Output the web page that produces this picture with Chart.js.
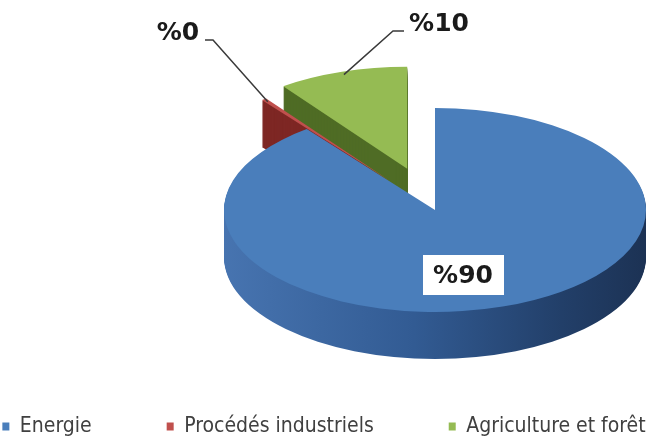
<!DOCTYPE html>
<html>
<head>
<meta charset="utf-8">
<script src="https://cdn.jsdelivr.net/npm/chart.js@4.4.0/dist/chart.umd.min.js"></script>
<style>
  html, body { margin: 0; padding: 0; background: #fff; }
  #wrap { width: 646px; height: 439px; position: relative; }
</style>
</head>
<body>
<div id="wrap"><canvas id="pie"></canvas></div>
<script>
const LABELS = ["Energie", "Procédés industriels", "Agriculture et forêt"];
const VALUES = [89.6, 0.4, 10];
const TOP_COLORS = ["#4a7ebb", "#c0504d", "#95bb53"];
const WALL_COLORS = [null, "#7e2724", "#4f6c25"];
const EXPLODE = [0, 75, 90];

// disc geometry on screen
const CX = 435;
const CY = 210;
const RADIUS = 211;
const TILT = 0.483;
const DEPTH = 47;

const LABEL_FONT = "bold 25px 'DejaVu Sans', Verdana, sans-serif";

function pct(i) {
  const total = VALUES.reduce((a, b) => a + b, 0);
  return "%" + Math.round((VALUES[i] / total) * 100);
}

function pivot(chart) {
  const a = chart.chartArea;
  return { x: (a.left + a.right) / 2, y: (a.top + a.bottom) / 2 };
}

function toScreen(chart, x, y) {
  const p = pivot(chart);
  return { x: CX + (x - p.x), y: CY + (y - p.y) * TILT };
}

function wedge(ctx, arc, dy) {
  ctx.beginPath();
  ctx.moveTo(arc.x, arc.y + dy);
  ctx.arc(arc.x, arc.y + dy, arc.outerRadius, arc.startAngle, arc.endAngle);
  ctx.closePath();
}

const pie3d = {
  id: "pie3d",
  afterDatasetsUpdate(chart) {
    // pull the small slices out along their middle angle
    chart.getDatasetMeta(0).data.forEach((arc, i) => {
      if (!EXPLODE[i]) return;
      const mid = (arc.startAngle + arc.endAngle) / 2;
      arc.x += Math.cos(mid) * EXPLODE[i];
      arc.y += Math.sin(mid) * EXPLODE[i];
    });
  },
  beforeDatasetsDraw(chart) {
    const ctx = chart.ctx;
    const p = pivot(chart);
    const arcs = chart.getDatasetMeta(0).data;
    ctx.save();
    ctx.translate(CX, CY);
    ctx.scale(1, TILT);
    ctx.translate(-p.x, -p.y);

    const grad = ctx.createLinearGradient(p.x - RADIUS, 0, p.x + RADIUS, 0);
    grad.addColorStop(0, "#4774b0");
    grad.addColorStop(0.45, "#325b93");
    grad.addColorStop(0.8, "#223f69");
    grad.addColorStop(1, "#1c3254");

    // side walls, stacked from the bottom up, back slices first
    [2, 1, 0].forEach((i) => {
      const arc = arcs[i];
      ctx.fillStyle = i === 0 ? grad : WALL_COLORS[i];
      for (let s = DEPTH; s > 0; s--) {
        wedge(ctx, arc, s / TILT);
        ctx.fill();
      }
    });
  },
  afterDatasetsDraw(chart) {
    const ctx = chart.ctx;
    ctx.restore();
    const arcs = chart.getDatasetMeta(0).data;

    const edge = (i) => {
      const arc = arcs[i];
      const mid = (arc.startAngle + arc.endAngle) / 2;
      return toScreen(
        chart,
        arc.x + Math.cos(mid) * arc.outerRadius * 0.97,
        arc.y + Math.sin(mid) * arc.outerRadius * 0.97,
      );
    };

    ctx.save();
    ctx.font = LABEL_FONT;
    ctx.textAlign = "center";
    ctx.textBaseline = "middle";

    // leader lines
    ctx.strokeStyle = "#3a3a3a";
    ctx.lineWidth = 1.5;
    const e1 = edge(1);
    ctx.beginPath();
    ctx.moveTo(205, 40);
    ctx.lineTo(213, 40);
    ctx.lineTo(e1.x, e1.y);
    ctx.stroke();
    const e2 = edge(2);
    ctx.beginPath();
    ctx.moveTo(404, 31);
    ctx.lineTo(393, 31);
    ctx.lineTo(e2.x, e2.y);
    ctx.stroke();

    ctx.fillStyle = "#1a1a1a";
    ctx.fillText(pct(1), 178, 33);
    ctx.fillText(pct(2), 439, 24);

    // value box on the big slice
    ctx.fillStyle = "#ffffff";
    ctx.fillRect(423, 255, 81, 40);
    ctx.fillStyle = "#1a1a1a";
    ctx.fillText(pct(0), 463, 276);
    ctx.restore();
  },
};

new Chart(document.getElementById("pie"), {
  type: "pie",
  data: {
    labels: LABELS,
    datasets: [
      {
        data: VALUES,
        backgroundColor: TOP_COLORS,
        borderWidth: 0,
        radius: RADIUS,
        hoverOffset: 0,
        clip: false,
      },
    ],
  },
  options: {
    responsive: true,
    maintainAspectRatio: false,
    animation: false,
    events: [],
    // wide legend row: let it run past the canvas sides so all three fit on one line
    layout: { padding: { left: -80, right: -82, top: 0, bottom: -8 } },
    plugins: {
      legend: {
        position: "bottom",
        labels: {
          boxWidth: 7,
          boxHeight: 8,
          padding: 75,
          color: "#404040",
          font: {
            family: "'Liberation Sans Narrow', 'DejaVu Sans Condensed', 'Liberation Sans', sans-serif",
            size: 21,
          },
        },
      },
      tooltip: { enabled: false },
    },
  },
  plugins: [pie3d],
});
</script>
</body>
</html>
